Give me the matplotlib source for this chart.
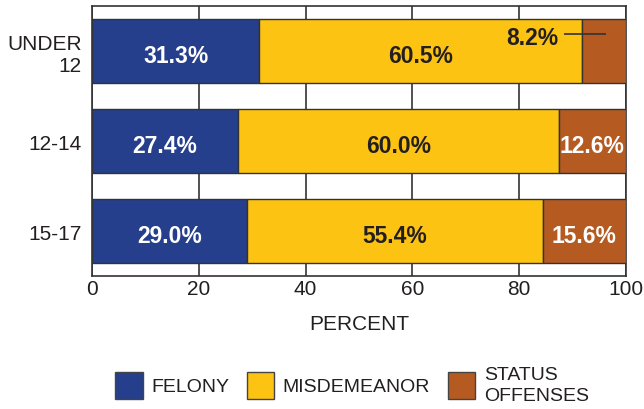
import matplotlib
matplotlib.use("Agg")
import matplotlib.pyplot as plt
from matplotlib.patches import Patch

plt.rcParams['font.family'] = ['Liberation Sans', 'DejaVu Sans']

categories = ["UNDER\n12", "12-14", "15-17"]
felony = [31.3, 27.4, 29.0]
misdemeanor = [60.5, 60.0, 55.4]
status = [8.2, 12.6, 15.6]
series_names = ["FELONY", "MISDEMEANOR", "STATUS\nOFFENSES"]
xticks = [0, 20, 40, 60, 80, 100]

colors = ["#263F8C", "#FDC312", "#B55B22"]
text_colors = ["white", "#231F20", "white"]
dark = "#231F20"

fig = plt.figure(figsize=(6.44, 4.10), dpi=100)
ax = fig.add_axes([92/644, 1-277/410, 534/644, 270/410])

ypos = list(range(len(categories)))
left = [0.0]*len(categories)
for vals, col, tcol in zip([felony, misdemeanor, status], colors, text_colors):
    ax.barh(ypos, vals, left=left, height=0.72, color=col,
            edgecolor="#333333", linewidth=1.0, zorder=3)
    for i, (v, l) in enumerate(zip(vals, left)):
        if v >= 10:
            ax.text(l + v/2, i + 0.045, f"{v:.1f}%", ha="center", va="center",
                    color=tcol, fontsize=16.5, fontweight="bold", zorder=4)
    left = [a+b for a, b in zip(left, vals)]

# small segment label with leader line
i = 0
v = status[0]
l = felony[0] + misdemeanor[0]
ax.text(87.4, i - 0.15, f"{v:.1f}%", ha="right", va="center", fontsize=16.5,
        fontweight="bold", color=dark, zorder=5)
ax.plot([88.4, l + v/2 + 0.3], [i - 0.19, i - 0.19], color="#333333", lw=1.2,
        zorder=5, solid_capstyle="butt")

ax.set_xlim(0, 100)
ax.set_ylim(2.5, -0.5)
ax.set_xticks(xticks)
ax.set_xticklabels([str(t) for t in xticks], fontsize=15, color=dark)
ax.set_yticks(ypos)
ax.set_yticklabels(categories, fontsize=15, color=dark, linespacing=1.2)
ax.tick_params(axis="both", length=0)
ax.tick_params(axis="x", pad=2.5)
ax.tick_params(axis="y", pad=7.5)
ax.grid(axis="x", color="#333333", linewidth=1.2, zorder=0)
ax.set_axisbelow(True)
for s in ax.spines.values():
    s.set_color("#333333")
    s.set_linewidth(1.2)
ax.set_xlabel("PERCENT", fontsize=15, color=dark, labelpad=11)

handles = [Patch(facecolor=c, edgecolor="#444444", linewidth=1.0) for c in colors]
leg = fig.legend(handles, series_names, loc="center", bbox_to_anchor=(352/644, 1-386/410),
                 ncol=3, frameon=False, fontsize=14, handlelength=1.4, handleheight=1.75,
                 handletextpad=0.45, columnspacing=0.9, labelcolor=dark)
for t in leg.get_texts():
    t.set_linespacing(1.3)

fig.savefig("out.png", dpi=100)
